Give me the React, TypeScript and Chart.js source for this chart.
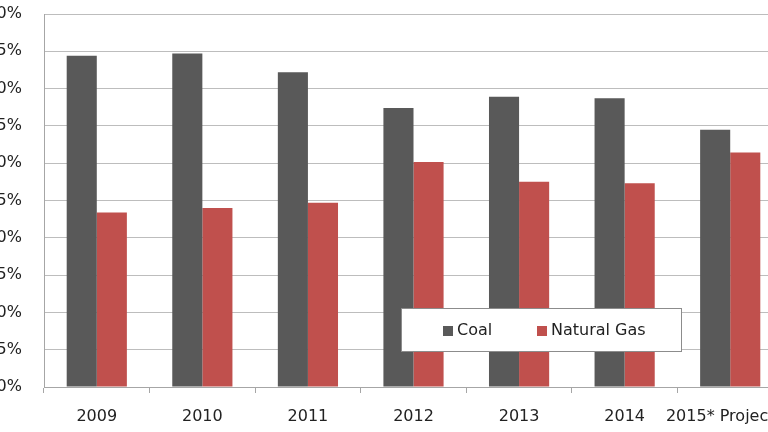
import React, { useEffect, useRef } from "react";
import { Chart, registerables } from "chart.js";

Chart.register(...registerables);

const categories = ["2009", "2010", "2011", "2012", "2013", "2014", "2015* Projected"];
const coal = [44.4, 44.7, 42.2, 37.4, 38.9, 38.7, 34.5];
const naturalGas = [23.4, 24.0, 24.7, 30.15, 27.5, 27.3, 31.45];
const seriesNames = ["Coal", "Natural Gas"];
const seriesColors = ["#595959", "#C0504D"];

const FONT = "'DejaVu Sans', sans-serif";
const TEXT = "#222222";

const legendPlugin = {
  id: "boxLegend",
  afterDraw(chart: any) {
    const ctx = chart.ctx;
    const x = 441, y = 308, w = 281, h = 44;
    ctx.save();
    ctx.fillStyle = "#ffffff";
    ctx.fillRect(x, y, w, h);
    ctx.strokeStyle = "#8c8c8c";
    ctx.lineWidth = 1;
    ctx.strokeRect(x + 0.5, y + 0.5, w - 1, h - 1);
    ctx.font = "16px " + FONT;
    ctx.textBaseline = "middle";
    ctx.textAlign = "left";
    const itemX = [483, 577];
    chart.data.datasets.forEach((ds: any, i: number) => {
      ctx.fillStyle = ds.backgroundColor;
      ctx.fillRect(itemX[i], y + 18, 10, 10);
      ctx.fillStyle = TEXT;
      ctx.fillText(ds.label, itemX[i] + 14, y + 23);
    });
    ctx.restore();
  },
};

export default function App() {
  const ref = useRef<HTMLCanvasElement | null>(null);
  useEffect(() => {
    if (!ref.current) return;
    const chart = new Chart(ref.current, {
      type: "bar",
      data: {
        labels: categories,
        datasets: [
          { label: seriesNames[0], data: coal, backgroundColor: seriesColors[0] },
          { label: seriesNames[1], data: naturalGas, backgroundColor: seriesColors[1] },
        ],
      },
      options: {
        animation: false,
        responsive: true,
        maintainAspectRatio: false,
        layout: { padding: { top: 14, right: 37, left: 0, bottom: 0 } },
        datasets: { bar: { categoryPercentage: 0.57, barPercentage: 1 } },
        plugins: { legend: { display: false }, tooltip: { enabled: false } },
        scales: {
          x: {
            grid: { drawOnChartArea: false, tickLength: 6, color: "#a6a6a6" },
            border: { color: "#a6a6a6" },
            ticks: { color: TEXT, font: { family: FONT, size: 16 }, padding: 14, maxRotation: 0, autoSkip: false },
            afterFit: (s: any) => { s.height = 45; },
          },
          y: {
            min: 0,
            max: 50,
            grid: { color: "#bdbdbd", drawTicks: true, tickLength: 22, tickColor: "rgba(0,0,0,0)" },
            border: { color: "#a6a6a6" },
            ticks: {
              stepSize: 5,
              color: TEXT,
              font: { family: FONT, size: 16 },
              padding: 0,
              callback: (v: any) => v + "%",
            },
            afterFit: (s: any) => { s.width = 84; },
          },
        },
      },
      plugins: [legendPlugin],
    });
    return () => chart.destroy();
  }, []);
  return (
    <div style={{ position: "fixed", left: 0, top: 0, width: 768, height: 432, overflow: "hidden", background: "#fff" }}>
      <div style={{ position: "absolute", left: -40, top: 0, width: 860, height: 432 }}>
        <canvas ref={ref} />
      </div>
    </div>
  );
}
